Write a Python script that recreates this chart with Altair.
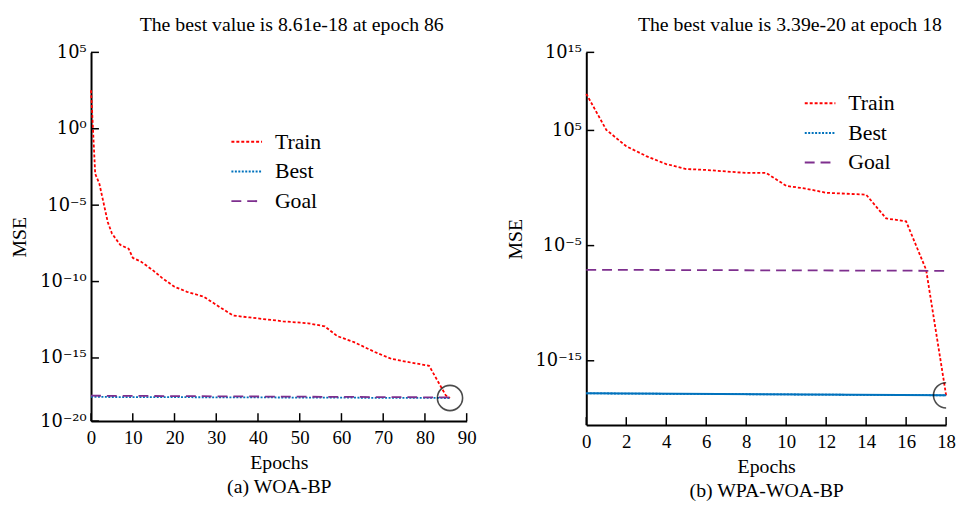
import altair as alt
import pandas as pd

FONT = "Liberation Serif"
SUP_FONT = "DejaVu Serif"

series_names = ["Train", "Best", "Goal"]
series_colors = ["#FF0000", "#0072BD", "#7E2F8E"]
series_dashes = [[3, 2], [2, 1.5], [10, 6]]

# ---- panel (a) WOA-BP : log10(MSE) ----
a_train_epoch = [0, 1, 2, 4, 5, 7, 9, 10, 12, 15, 17, 20, 23, 27, 31, 34, 38, 46, 52, 56, 59, 63, 68, 72, 77, 81, 83, 85, 86]
a_train_log = [2.52, -2.95, -3.6, -6.1, -6.85, -7.6, -7.85, -8.45, -8.7, -9.3, -9.76, -10.34, -10.67, -10.99, -11.7,
               -12.22, -12.35, -12.6, -12.73, -12.93, -13.57, -13.96, -14.61, -15.06, -15.32, -15.51, -16.48, -17.45, -17.62]
a_best_epoch = [0, 86]
a_best_log = [-17.55, -17.62]
a_goal_epoch = [0, 86]
a_goal_log = [-17.47, -17.58]
a_mark_epoch = [86]
a_mark_log = [-17.62]

# ---- panel (b) WPA-WOA-BP ----
b_train_epoch = [0, 1, 2, 3, 4, 5, 6, 8, 9, 10, 11, 12, 14, 15, 16, 17, 18]
b_train_log = [8.18, 5.05, 3.63, 2.77, 2.08, 1.65, 1.57, 1.31, 1.31, 0.19, -0.06, -0.41, -0.58, -2.64, -2.9, -7.1, -18.0]
b_best_epoch = [0, 18]
b_best_log = [-17.83, -18.0]
b_goal_epoch = [0, 18]
b_goal_log = [-7.1, -7.19]
b_mark_epoch = [18]
b_mark_log = [-18.0]

a_title = "The best value is 8.61e-18 at epoch 86"
b_title = "The best value is 3.39e-20 at epoch 18"
a_caption = ["Epochs", "(a) WOA-BP"]
b_caption = ["Epochs", "(b) WPA-WOA-BP"]

a_x_ticks = [0, 10, 20, 30, 40, 50, 60, 70, 80, 90]
b_x_ticks = [0, 2, 4, 6, 8, 10, 12, 14, 16, 18]
a_y_exp = [5, 0, -5, -10, -15, -19.13]
a_y_labels = ["10⁵", "10⁰", "10⁻⁵", "10⁻¹⁰", "10⁻¹⁵", "10⁻²⁰"]
b_y_exp = [11.78, 5, -5, -15]
b_y_labels = ["10¹⁵", "10⁵", "10⁻⁵", "10⁻¹⁵"]
a_y_domain_exp = [-19.13, 5]
b_y_domain_exp = [-20.58, 11.78]


def long_df(parts):
    rows = []
    for name, ep, lg in parts:
        for e, v in zip(ep, lg):
            rows.append({"series": name, "epoch": e, "mse": 10 ** v})
    return pd.DataFrame(rows)


def label_expr(exps, labels):
    expr = "''"
    for e, l in reversed(list(zip(exps, labels))):
        expr = f"abs(log(datum.value)/LN10 - ({e})) < 0.01 ? '{l}' : " + expr
    return expr


def panel(df, mark_df, best_df, title, dx, caption, xdom, xticks, yexp, ylabels, ydom, w, h, lx, ly, solid_best):
    xs = alt.Scale(domain=xdom, nice=False, zero=False)
    ys = alt.Scale(type="log", domain=[10 ** ydom[0], 10 ** ydom[1]], nice=False)
    yvals = [10 ** e for e in yexp]
    x_main = alt.Axis(values=xticks, orient="bottom", domainColor="black", domainWidth=2, ticks=False,
                      grid=False, labelFont=FONT, labelFontSize=19, labelColor="black", labelPadding=8,
                      title=caption, titleFont=FONT, titleFontSize=20, titleFontWeight="normal",
                      titleColor="black", titlePadding=5, titleLineHeight=24, labelFlush=False)
    y_main = alt.Axis(values=yvals, orient="left", domainColor="black", domainWidth=2, ticks=False,
                      grid=False, labelExpr=label_expr(yexp, ylabels), labelFont=SUP_FONT, labelFontSize=18,
                      labelColor="black", labelPadding=5, title="MSE", titleFont=FONT, titleFontSize=20,
                      titleFontWeight="normal", titleColor="black", titlePadding=10, labelFlush=False)

    leg = dict(title=None, orient="none", legendX=lx, legendY=ly, symbolType="stroke", symbolSize=961,
               symbolStrokeWidth=2, labelFont=FONT, labelFontSize=22, labelColor="black",
               labelOffset=12, rowPadding=2)
    lines = alt.Chart(df).mark_line(strokeWidth=1.8).encode(
        x=alt.X("epoch:Q", scale=xs, axis=x_main),
        y=alt.Y("mse:Q", scale=ys, axis=y_main),
        color=alt.Color("series:N", scale=alt.Scale(domain=series_names, range=series_colors),
                        legend=alt.Legend(**leg)),
        strokeDash=alt.StrokeDash("series:N", scale=alt.Scale(domain=series_names, range=series_dashes),
                                  legend=alt.Legend(**leg)),
        order=alt.Order("epoch:Q"),
    )
    # inward tick marks on the two axis lines (short rules starting at each axis line)
    yt = alt.Chart(pd.DataFrame({"v": yvals})).mark_rule(
        color="black", strokeWidth=1.5, x2Offset=8).encode(
        x=alt.datum(xdom[0]), x2=alt.datum(xdom[0]), y=alt.Y("v:Q", scale=ys))
    xt = alt.Chart(pd.DataFrame({"v": xticks})).mark_rule(
        color="black", strokeWidth=1.5, y2Offset=-8).encode(
        x=alt.X("v:Q", scale=xs), y=alt.datum(10 ** ydom[0]), y2=alt.datum(10 ** ydom[0]))
    circ = alt.Chart(mark_df).mark_point(shape="circle", size=650, filled=False, stroke="black",
                                         strokeWidth=1.6, clip=True).encode(
        x=alt.X("epoch:Q", scale=xs), y=alt.Y("mse:Q", scale=ys))
    layers = [lines]
    if solid_best:
        layers.append(alt.Chart(best_df).mark_line(color="#0072BD", strokeWidth=2).encode(
            x=alt.X("epoch:Q", scale=xs), y=alt.Y("mse:Q", scale=ys)))
    layers += [yt, xt, circ]
    return alt.layer(*layers).properties(
        width=w, height=h,
        title=alt.TitleParams(title, font=FONT, fontSize=20, fontWeight="normal", color="black",
                              anchor="middle", frame="group", dx=dx, offset=9))


a_df = long_df([("Train", a_train_epoch, a_train_log), ("Best", a_best_epoch, a_best_log),
                ("Goal", a_goal_epoch, a_goal_log)])
b_df = long_df([("Train", b_train_epoch, b_train_log), ("Best", b_best_epoch, b_best_log),
                ("Goal", b_goal_epoch, b_goal_log)])
a_mark = long_df([("m", a_mark_epoch, a_mark_log)])
b_mark = long_df([("m", b_mark_epoch, b_mark_log)])
b_best_df = long_df([("Best", b_best_epoch, b_best_log)])

left = panel(a_df, a_mark, None, a_title, 13, a_caption, [0, 90], a_x_ticks, a_y_exp, a_y_labels,
             a_y_domain_exp, 380, 373, 141, 74, False)
right = panel(b_df, b_mark, b_best_df, b_title, 24, b_caption, [0, 18], b_x_ticks, b_y_exp, b_y_labels,
              b_y_domain_exp, 364, 377, 220, 35, True)

chart = alt.hconcat(left, right, spacing=29).resolve_scale(
    x="independent", y="independent", color="independent", strokeDash="independent"
).resolve_legend(color="independent", strokeDash="independent").properties(
    padding={"left": 2, "top": 4, "right": 0, "bottom": 0}, background="white"
).configure_view(stroke=None).configure_axis(domainColor="black")

chart.save("out.html", embed_options={"renderer": "svg", "actions": False})
